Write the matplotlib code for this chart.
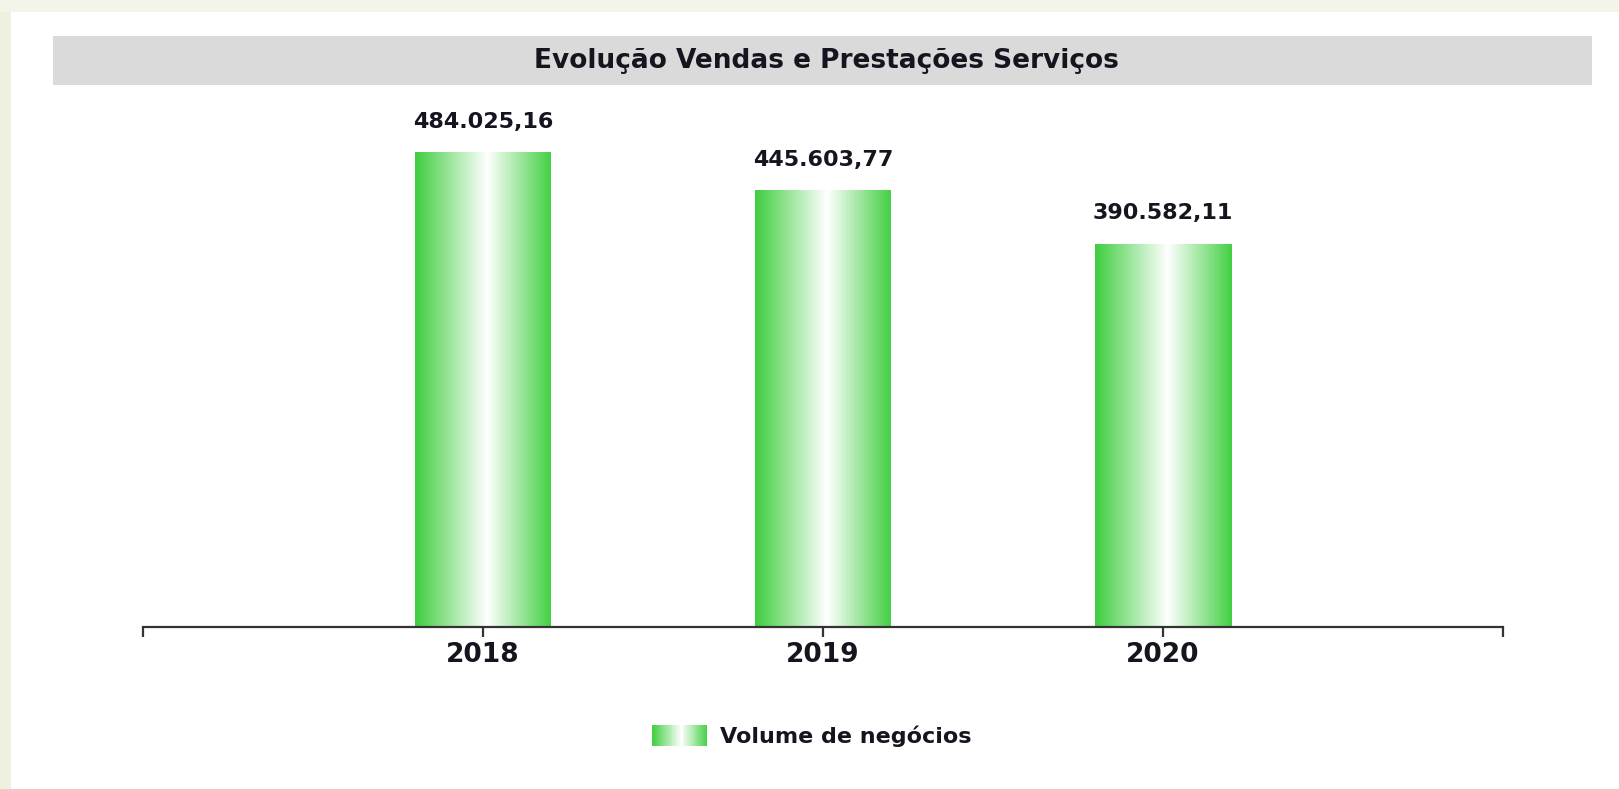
import numpy as np
import matplotlib
matplotlib.use("Agg")
import matplotlib.pyplot as plt
from matplotlib.colors import LinearSegmentedColormap
from matplotlib.patches import Rectangle
from matplotlib.legend_handler import HandlerBase

# data
years = ["2018", "2019", "2020"]
volume = [484025.16, 445603.77, 390582.11]
title = "Evolução Vendas e Prestações Serviços"
series_name = "Volume de negócios"

text_col = "#15151f"
green = "#3fce3f"
cmap = LinearSegmentedColormap.from_list("barg", [(0, green), (0.53, "#ffffff"), (1, "#44d044")])

plt.rcParams["font.family"] = "DejaVu Sans"
plt.rcParams["font.weight"] = "bold"


def fmt_pt(v):
    s = f"{v:,.2f}"
    return s.replace(",", "X").replace(".", ",").replace("X", ".")


class GradientHandler(HandlerBase):
    def create_artists(self, legend, orig_handle, xdescent, ydescent,
                       width, height, fontsize, trans):
        n = 60
        arts = []
        for i in range(n):
            r = Rectangle((-xdescent + width * i / n, -ydescent), width / n * 1.1, height,
                          facecolor=cmap((i + 0.5) / n), edgecolor="none", transform=trans)
            arts.append(r)
        return arts


W, H = 1619, 789
fig = plt.figure(figsize=(W / 100, H / 100), dpi=100)
fig.patch.set_facecolor("white")

# page border strips
fig.patches.append(Rectangle((0, 0), 11 / W, 1, transform=fig.transFigure,
                             facecolor="#edf1de", edgecolor="none", zorder=0))
fig.patches.append(Rectangle((0, 1 - 12 / H), 1, 12 / H, transform=fig.transFigure,
                             facecolor="#f2f5e8", edgecolor="none", zorder=0))

# title bar
fig.patches.append(Rectangle((53 / W, 1 - 85 / H), (1592 - 53) / W, 49 / H,
                             transform=fig.transFigure, facecolor="#dadada",
                             edgecolor="none", zorder=0))
fig.text(826 / W, 1 - 61 / H, title, ha="center", va="center",
         fontsize=19, fontweight="bold", color=text_col)

ax = fig.add_axes([143 / W, 1 - 627 / H, (1503 - 143) / W, (627 - 95) / H])
x = np.arange(len(years))
bars = ax.bar(x, volume, width=0.4, color="none", edgecolor="none")
grad = np.linspace(0, 1, 256).reshape(1, -1)
for b, v in zip(bars, volume):
    x0 = b.get_x()
    ax.imshow(grad, cmap=cmap, aspect="auto", extent=[x0, x0 + b.get_width(), 0, b.get_height()],
              zorder=2, interpolation="bilinear")
    ax.annotate(fmt_pt(v), (b.get_x() + b.get_width() / 2, b.get_height()),
                xytext=(0, 15), textcoords="offset points", ha="center", va="bottom",
                fontsize=16, fontweight="bold", color=text_col)

ax.set_xlim(-1, 3)
ax.set_ylim(0, 543000)
for s in ["top", "left", "right"]:
    ax.spines[s].set_visible(False)
ax.spines["bottom"].set_color("#333333")
ax.spines["bottom"].set_linewidth(1.6)
ax.set_yticks([])
ax.set_xticks(x)
ax.set_xticklabels(years, fontsize=19, fontweight="bold", color=text_col)
ax.set_xticks([-1, 3], minor=True)
ax.tick_params(axis="x", which="both", length=7, width=1.6, color="#333333", pad=4)
ax.set_facecolor("none")

fig.legend([Rectangle((0, 0), 1, 1)], [series_name], handler_map={Rectangle: GradientHandler()},
           loc="center", bbox_to_anchor=(812 / W, 53 / H), frameon=False,
           prop={"size": 16, "weight": "bold"}, labelcolor=text_col,
           handlelength=2.48, handleheight=1.1, handletextpad=0.58)

fig.savefig("out.png", dpi=100, facecolor=fig.get_facecolor())
